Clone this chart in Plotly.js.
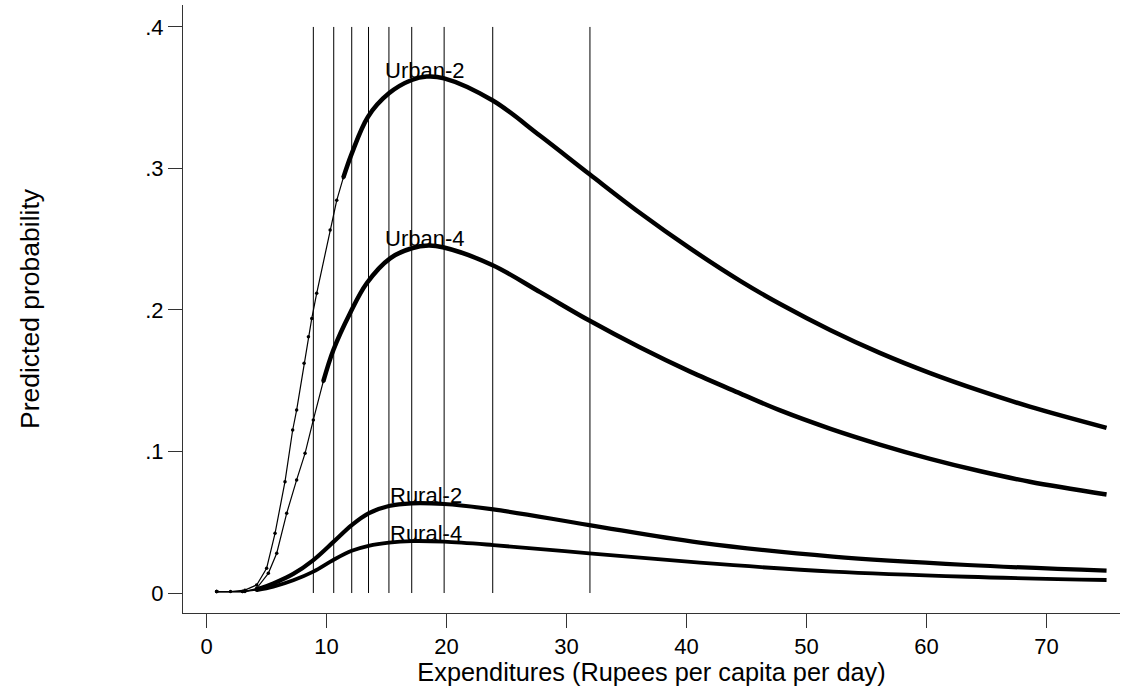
<!DOCTYPE html>
<html>
<head>
<meta charset="utf-8">
<script src="https://cdn.plot.ly/plotly-3.0.1.min.js"></script>
<style>html,body{margin:0;padding:0;background:#fff;}#chart{width:1122px;height:686px;}</style>
</head>
<body>
<div id="chart"></div>
<script>
// Data
const urban2X = [0.85, 2.0, 3.2, 4.18, 5.01, 5.71, 6.54, 7.18, 7.51, 8.13, 8.49, 8.77, 9.18, 10.3, 10.85, 11.4, 12.1, 13.46, 15.2, 17.1, 18.35, 19.8, 23.85, 27.8, 31.95, 36.1, 40.3, 44.5, 47.8, 52.0, 56.1, 60.3, 64.5, 68.6, 75.0];
const urban2Y = [0.001, 0.001, 0.002, 0.0057, 0.0175, 0.0422, 0.0787, 0.1152, 0.1293, 0.1623, 0.1811, 0.194, 0.2118, 0.2565, 0.2775, 0.2935, 0.3105, 0.3366, 0.3531, 0.3625, 0.3649, 0.3637, 0.348, 0.3231, 0.2957, 0.2687, 0.2435, 0.2204, 0.2042, 0.1857, 0.1697, 0.1554, 0.1428, 0.1317, 0.1167];

const urban4X = [0.85, 3.2, 4.18, 5.15, 5.85, 6.68, 7.51, 8.21, 8.9, 9.73, 10.57, 11.96, 13.35, 15.3, 17.1, 18.5, 19.7, 23.8, 27.8, 31.9, 36.1, 40.3, 44.5, 47.8, 52.0, 56.1, 60.3, 64.5, 68.6, 75.0];
const urban4Y = [0.001, 0.001, 0.0033, 0.0139, 0.0281, 0.0563, 0.0799, 0.0987, 0.1223, 0.1495, 0.1717, 0.1977, 0.2189, 0.2365, 0.2436, 0.2455, 0.2443, 0.2318, 0.2126, 0.1925, 0.1736, 0.1564, 0.1409, 0.129, 0.116, 0.1049, 0.0948, 0.086, 0.0786, 0.0696];

const rural2X = [0.85, 3.0, 4.18, 5.57, 7.23, 8.9, 10.6, 12.1, 13.5, 15.2, 17.1, 19.8, 23.9, 31.9, 41.1, 52.2, 63.4, 75.0];
const rural2Y = [0.001, 0.001, 0.0026, 0.0068, 0.0135, 0.0233, 0.0363, 0.048, 0.0563, 0.0615, 0.0634, 0.0629, 0.0591, 0.048, 0.0356, 0.0257, 0.0198, 0.0158];

const rural4X = [0.85, 3.0, 4.18, 5.57, 7.23, 8.9, 10.6, 12.1, 13.5, 15.2, 17.1, 19.8, 23.9, 31.9, 41.1, 52.2, 63.4, 75.0];
const rural4Y = [0.001, 0.001, 0.002, 0.0045, 0.009, 0.0151, 0.0235, 0.0298, 0.0333, 0.0356, 0.0367, 0.0363, 0.0339, 0.028, 0.0214, 0.0151, 0.0115, 0.0092];

// Vertical reference lines (expenditure cut-offs)
const cutoffs = [8.9, 10.6, 12.1, 13.5, 15.2, 17.1, 19.8, 23.85, 31.95];
const cutLow = 0;
const cutHigh = 0.4;

// Curve labels
const labelNames = ["Urban-2", "Urban-4", "Rural-2", "Rural-4"];
const labelX = [18.15, 18.15, 18.3, 18.3];
const labelY = [0.363, 0.2447, 0.0629, 0.0363];

const xTicks = [0, 10, 20, 30, 40, 50, 60, 70];
const yTicks = [0, 0.1, 0.2, 0.3, 0.4];
const yTickText = ["0", ".1", ".2", ".3", ".4"];

const xTitle = "Expenditures (Rupees per capita per day)";
const yTitle = "Predicted probability";

const FONT = "Liberation Sans, Arial, Helvetica, sans-serif";

function split(xs, ys, cut) {
  const a = {x: [], y: []}, b = {x: [], y: []};
  xs.forEach((v, i) => {
    if (v <= cut) { a.x.push(v); a.y.push(ys[i]); }
    if (v >= cut) { b.x.push(v); b.y.push(ys[i]); }
  });
  const last = a.x.length - 1;
  if (b.x[0] !== a.x[last]) { b.x.unshift(a.x[last]); b.y.unshift(a.y[last]); }
  return [a, b];
}

const traces = [];

// vertical lines
const vx = [], vy = [];
cutoffs.forEach(c => { vx.push(c, c, null); vy.push(cutLow, cutHigh, null); });
traces.push({x: vx, y: vy, mode: 'lines', line: {color: '#000', width: 1}, hoverinfo: 'skip', showlegend: false});

function addCurve(xs, ys, cut, thickW) {
  const [thin, thick] = split(xs, ys, cut);
  traces.push({x: thin.x, y: thin.y, mode: 'lines+markers', line: {color: '#000', width: 1.2},
    marker: {color: '#000', size: 3.5}, showlegend: false});
  traces.push({x: thick.x, y: thick.y, mode: 'lines', line: {color: '#000', width: thickW, shape: 'spline', smoothing: 1},
    showlegend: false});
}
addCurve(urban2X, urban2Y, 11.4, 4.5);
addCurve(urban4X, urban4Y, 9.73, 4.5);
addCurve(rural2X, rural2Y, 4.18, 4.2);
addCurve(rural4X, rural4Y, 4.18, 3.8);

const annotations = labelNames.map((t, i) => ({
  x: labelX[i], y: labelY[i], xref: 'x', yref: 'y', text: t, showarrow: false,
  xanchor: 'center', yanchor: 'bottom', yshift: -6,
  font: {family: FONT, size: 22, color: '#000'}
}));

const layout = {
  width: 1122, height: 686,
  paper_bgcolor: '#fff', plot_bgcolor: '#fff',
  margin: {l: 183, r: 2, t: 5, b: 73, pad: 0},
  showlegend: false,
  font: {family: FONT, color: '#000'},
  xaxis: {
    range: [-1.96, 76.12], tickvals: xTicks, ticktext: xTicks.map(String),
    showgrid: false, zeroline: false, showline: true, linecolor: '#333', linewidth: 1,
    ticks: 'outside', ticklen: 14, tickwidth: 1, tickcolor: '#333',
    tickfont: {family: FONT, size: 22, color: '#000'},
    title: {text: xTitle, font: {family: FONT, size: 25.3, color: '#000'}, standoff: 0},
    automargin: false
  },
  yaxis: {
    range: [-0.01413, 0.4155], tickvals: yTicks, ticktext: yTickText,
    showgrid: false, zeroline: false, showline: true, linecolor: '#333', linewidth: 1,
    ticks: 'outside', ticklen: 14, tickwidth: 1, tickcolor: '#333',
    tickfont: {family: FONT, size: 22, color: '#000'},
    title: {text: yTitle, font: {family: FONT, size: 26.5, color: '#000'}, standoff: 97},
    automargin: false
  },
  annotations: annotations
};

Plotly.newPlot('chart', traces, layout, {displayModeBar: false, staticPlot: true});
</script>
</body>
</html>
